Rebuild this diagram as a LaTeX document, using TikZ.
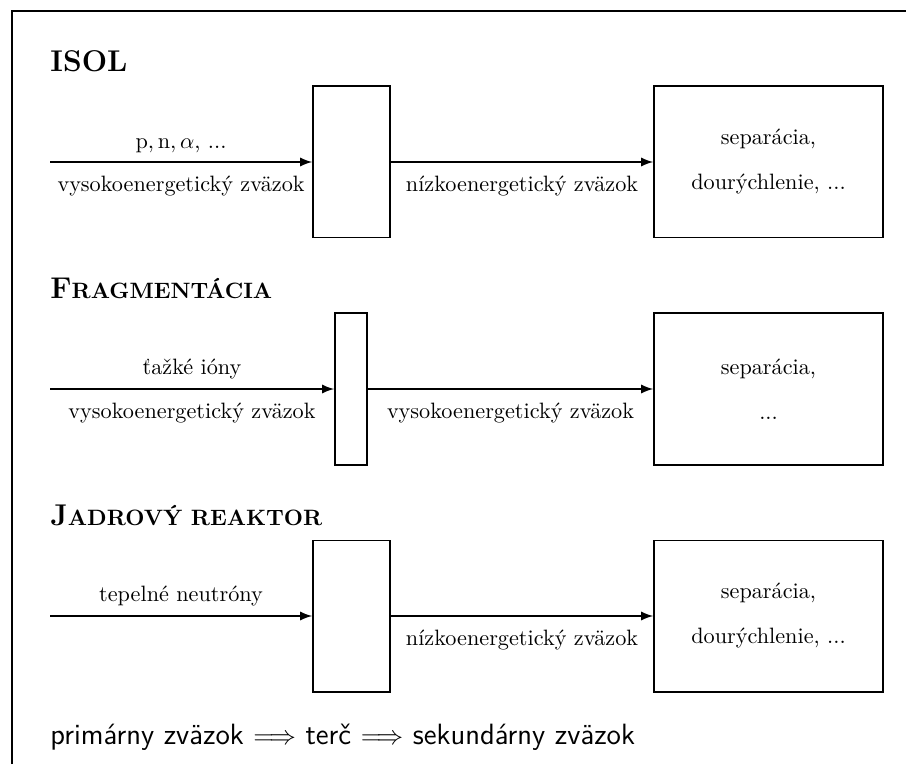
\documentclass[tikz,border=0pt]{standalone}
\usepackage{amsmath,amssymb}
\usepackage{tikz}
\usetikzlibrary{arrows, positioning}

\newcommand{\boldcaps}[2]{\textbf{{\fontsize{13.5}{16}\selectfont #1}{\fontsize{10}{12}\selectfont #2}}}

\begin{document}
\begin{tikzpicture}[
    x=0.45pt, y=-0.45pt,
    target/.style={rectangle, draw, line width=0.85pt, minimum width=34.6pt, minimum height=68pt, inner sep=0pt},
    thintarget/.style={target, minimum width=14.4pt},
    sepblock/.style={rectangle, draw, line width=0.85pt, minimum width=103pt, minimum height=68pt, align=center, font=\normalsize},
    header/.style={anchor=base west, inner sep=0pt},
    arrow/.style={line width=0.85pt, -latex}
]
    \useasboundingbox (0,0) rectangle (906,764);
    % Frame
    \draw [line width=0.9pt] (12,764) |- (906,11);

    % ISOL
    \node (hisol) [header] at (50,72) {\boldcaps{ISOL}{}};
    \coordinate (src1) at (50,162);
    \node (tgt1) [target] at (351.5,162) {};
    \node (sep1) [sepblock] at (768.5,162) {separácia,\\[8.25pt] dourýchlenie, ...};

    % Fragmentacia
    \node (hfrag) [header] at (50,299) {\boldcaps{F}{RAGMENTÁCIA}};
    \coordinate (src2) at (50,389);
    \node (tgt2) [thintarget] at (351,389) {};
    \node (sep2) [sepblock] at (768.5,389) {separácia,\\[8.25pt] ...};

    % Jadrovy reaktor
    \node (hreak) [header] at (50,525) {\boldcaps{J}{ADROVÝ REAKTOR}};
    \coordinate (src3) at (50,616);
    \node (tgt3) [target] at (351.5,616) {};
    \node (sep3) [sepblock] at (768.5,616) {separácia,\\[8.25pt] dourýchlenie, ...};

    % Arrows
    \draw [arrow] (src1) -- (tgt1.west)
        node[midway, above=0.5pt] {$\mathrm{p}, \mathrm{n}, \alpha$, ...}
        node[midway, below=2.7pt] {vysokoenergetický zväzok};
    \draw [arrow] (tgt1.east) -- (sep1.west)
        node[midway, below=2.7pt] {nízkoenergetický zväzok};

    \draw [arrow] (src2) -- (tgt2.west)
        node[midway, above=0.5pt] {ťažké ióny}
        node[midway, below=2.7pt] {vysokoenergetický zväzok};
    \draw [arrow] (tgt2.east) -- (sep2.west)
        node[midway, below=2.7pt] {vysokoenergetický zväzok};

    \draw [arrow] (src3) -- (tgt3.west)
        node[midway, above=0.5pt] {tepelné neutróny};
    \draw [arrow] (tgt3.east) -- (sep3.west)
        node[midway, below=2.7pt] {nízkoenergetický zväzok};

    % Summary
    \node (summary) [header, font=\sffamily\fontsize{13.2}{15}\selectfont] at (50,744)
        {primárny zväzok $\Longrightarrow$ terč $\Longrightarrow$ sekundárny zväzok};
\end{tikzpicture}
\end{document}
